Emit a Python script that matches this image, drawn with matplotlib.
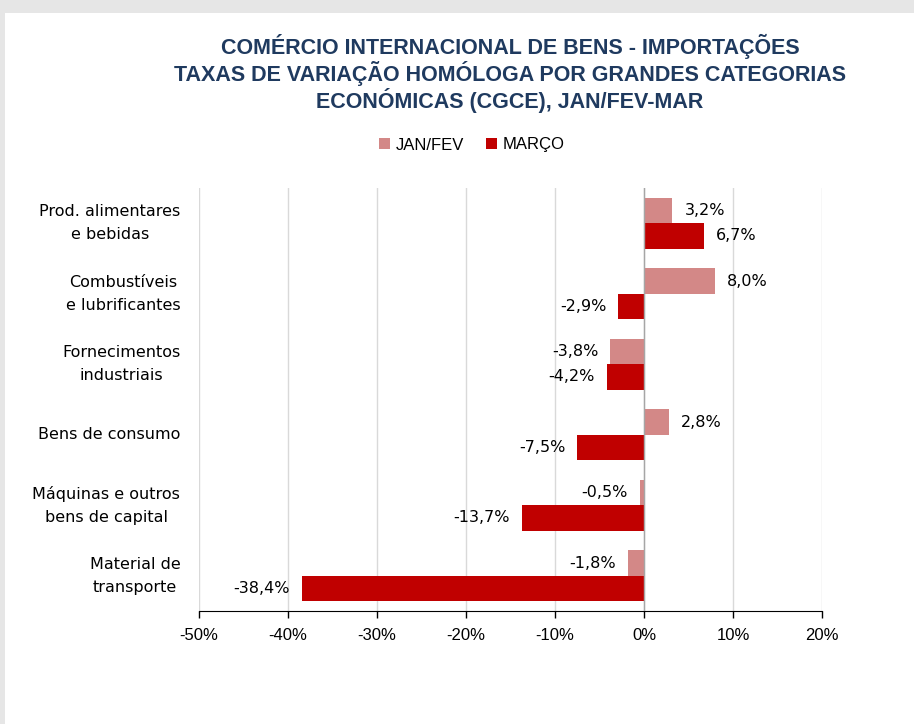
import numpy as np
import matplotlib
matplotlib.use("Agg")
import matplotlib.pyplot as plt
from matplotlib.patches import Rectangle
from matplotlib.ticker import FuncFormatter

# ==== DADOS ====
categorias = ["Prod. alimentares\ne bebidas", "Combustíveis\ne lubrificantes",
              "Fornecimentos\nindustriais", "Bens de consumo",
              "Máquinas e outros\nbens de capital", "Material de\ntransporte"]
jan_fev = [3.2, 8.0, -3.8, 2.8, -0.5, -1.8]
marco = [6.7, -2.9, -4.2, -7.5, -13.7, -38.4]
series_nomes = ["JAN/FEV", "MARÇO"]
titulo = ("COMÉRCIO INTERNACIONAL DE BENS - IMPORTAÇÕES\n"
          "TAXAS DE VARIAÇÃO HOMÓLOGA POR GRANDES CATEGORIAS\n"
          "ECONÓMICAS (CGCE), JAN/FEV-MAR")
x_ticks = [-50, -40, -30, -20, -10, 0, 10, 20]
# ===============

COR_JF = "#d38887"
COR_MAR = "#c00000"
COR_TITULO = "#1f3a5f"
FONTE = ["DejaVu Sans"]
FONTE_NARROW = ["Liberation Sans", "DejaVu Sans"]

fig = plt.figure(figsize=(9.14, 7.24), dpi=100)
fig.patch.set_facecolor("#e6e6e6")
fig.add_artist(Rectangle((5 / 914, 0), 1, 1 - 13 / 724, transform=fig.transFigure,
                         facecolor="white", edgecolor="none", zorder=-1))

ax = fig.add_axes([199 / 914, 1 - 611 / 724, 623 / 914, 423 / 724])
ax.set_facecolor("none")

y = np.arange(len(categorias))
h = 0.36
b1 = ax.barh(y - h / 2, jan_fev, height=h, color=COR_JF, zorder=3)
b2 = ax.barh(y + h / 2, marco, height=h, color=COR_MAR, zorder=3)

ax.set_xlim(-50, 20)
ax.set_ylim(len(categorias) - 0.5, -0.5)
ax.set_xticks(x_ticks)
ax.xaxis.set_major_formatter(FuncFormatter(lambda v, p: f"{v:.0f}%"))
for lab in ax.get_xticklabels():
    lab.set_fontfamily(FONTE_NARROW)
    lab.set_fontsize(12)
ax.tick_params(axis="x", direction="out", length=5, width=1, color="black", pad=7)
ax.set_yticks([])
ax.grid(axis="x", color="#d9d9d9", linewidth=1, zorder=0)
for s in ["top", "right", "left"]:
    ax.spines[s].set_visible(False)
ax.spines["bottom"].set_color("black")
ax.axvline(0, color="#a6a6a6", linewidth=1, zorder=4)

# rótulos das categorias
for yi, nome in zip(y, categorias):
    ax.text(-0.03, yi, nome, transform=ax.get_yaxis_transform(), ha="right", va="center",
            multialignment="center", fontsize=11.5, family=FONTE, linespacing=1.65)

# rótulos dos valores
for bars, vals in [(b1, jan_fev), (b2, marco)]:
    for bar, v in zip(bars, vals):
        yc = bar.get_y() + bar.get_height() / 2
        txt = f"{v:.1f}%".replace(".", ",")
        off = 12 if v >= 0 else -12
        ax.annotate(txt, (v, yc), xytext=(off, 0), textcoords="offset pixels",
                    ha="left" if v >= 0 else "right", va="center",
                    fontsize=11.5, family=FONTE, zorder=5)

fig.text(510 / 914, 1 - 73 / 724, titulo, ha="center", va="center", fontsize=15.5,
         fontweight="bold", color=COR_TITULO, family=FONTE_NARROW, linespacing=1.1)

fig.legend([b1, b2], series_nomes, loc="center", bbox_to_anchor=(472 / 914, 1 - 145 / 724),
           ncol=2, frameon=False, handlelength=0.65, handleheight=0.65, handletextpad=0.35,
           columnspacing=1.3, prop={"family": FONTE_NARROW, "size": 12})

fig.savefig("out.png", dpi=100, facecolor=fig.get_facecolor())
